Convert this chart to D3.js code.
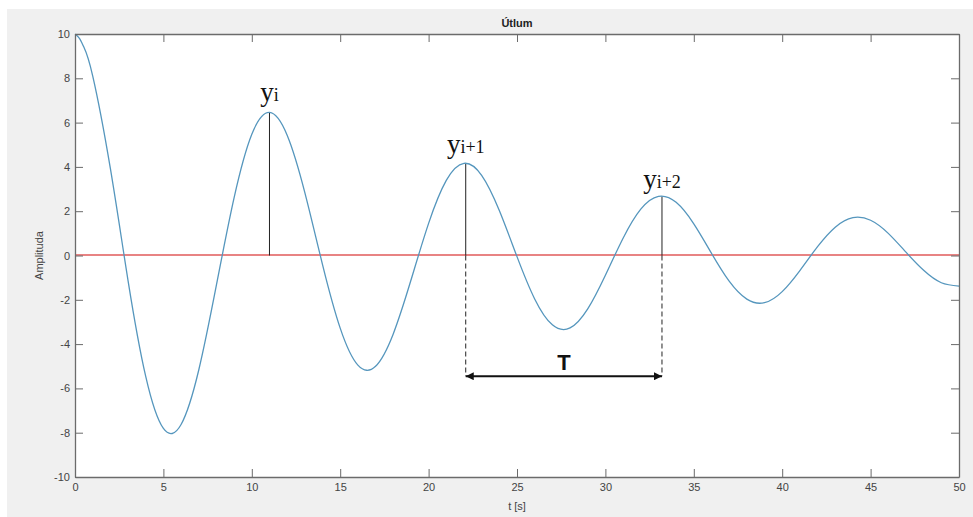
<!DOCTYPE html>
<html>
<head>
<meta charset="utf-8">
<script src="https://cdn.jsdelivr.net/npm/d3@7"></script>
<style>
  html, body { margin: 0; padding: 0; background: #fff; }
  svg { display: block; }
  text { font-family: "Liberation Sans", Arial, sans-serif; }
</style>
</head>
<body>
<div id="chart"></div>
<script>
  // Signal samples (t in s, amplitude)
  const tValues = [0, 0.25, 0.5, 1, 2, 3, 4, 5, 6, 7, 8, 9, 10, 11, 12, 13, 14, 15, 16, 17, 18, 19, 20,
    21, 22, 23, 24, 25, 26, 27, 28, 29, 30, 31, 32, 33, 34, 35, 36, 37, 38, 39, 40,
    41, 42, 43, 44, 45, 46, 47, 48, 49, 50];
  const ampValues = [10.00, 9.80, 9.41, 8.11, 3.93, -1.13, -5.46, -7.81, -7.63, -5.17, -1.33, 2.61, 5.47, 6.46, 5.43, 2.84, -0.41, -3.28, -4.95, -5.00, -3.54, -1.12, 1.45,
    3.39, 4.16, 3.62, 2.03, -0.05, -1.96, -3.13, -3.27, -2.41, -0.89, 0.78, 2.09, 2.67, 2.40, 1.43, 0.10, -1.16, -1.97, -2.13, -1.63,
    -0.68, 0.40, 1.28, 1.71, 1.59, 1.00, 0.15, -0.67, -1.23, -1.38];

  // Marked peaks
  const peakT = [11.0, 22.1, 33.2];
  const peakAmp = [6.45, 4.15, 2.67];
  const peakNames = ['i', 'i+1', 'i+2'];

  const xTicks = [0, 5, 10, 15, 20, 25, 30, 35, 40, 45, 50];
  const yTicks = [-10, -8, -6, -4, -2, 0, 2, 4, 6, 8, 10];
  const arrowLevel = -5.45;

  const W = 973, H = 517;
  const margin = { top: 34, right: 14, bottom: 40, left: 75 };
  const width = 959 - margin.left;
  const height = 477 - margin.top;

  const root = d3.select('#chart').append('svg')
    .attr('width', W)
    .attr('height', H);

  // figure background
  root.append('rect')
    .attr('x', 7).attr('y', 9)
    .attr('width', W - 7).attr('height', H - 9)
    .attr('fill', '#f0f0f0');

  const svg = root.append('g')
    .attr('transform', `translate(${margin.left},${margin.top})`);

  const x = d3.scaleLinear().domain([0, 50]).range([0, width]);
  const y = d3.scaleLinear().domain([-10, 10]).range([height, 0]);

  svg.append('rect')
    .attr('width', width).attr('height', height)
    .attr('fill', '#fff');

  const data = tValues.map((t, i) => ({ t: t, a: ampValues[i] }));

  // zero line
  svg.append('line')
    .attr('x1', x(0)).attr('x2', x(50))
    .attr('y1', y(0) - 0.5).attr('y2', y(0) - 0.5)
    .attr('stroke', '#e05a5a')
    .attr('stroke-width', 1.5);

  // peak markers
  peakT.forEach((t, i) => {
    svg.append('line')
      .attr('x1', x(t)).attr('x2', x(t))
      .attr('y1', y(0)).attr('y2', y(peakAmp[i]))
      .attr('stroke', '#222')
      .attr('stroke-width', 1);
  });

  // dashed drop lines to the period arrow
  [peakT[1], peakT[2]].forEach(t => {
    svg.append('line')
      .attr('x1', x(t)).attr('x2', x(t))
      .attr('y1', y(0)).attr('y2', y(arrowLevel))
      .attr('stroke', '#222')
      .attr('stroke-width', 1)
      .attr('stroke-dasharray', '5,3');
  });

  // double arrow for T
  const defs = root.append('defs');
  defs.append('marker')
    .attr('id', 'arrow')
    .attr('viewBox', '0 0 10 10')
    .attr('refX', 10).attr('refY', 5)
    .attr('markerWidth', 10).attr('markerHeight', 8)
    .attr('markerUnits', 'userSpaceOnUse')
    .attr('orient', 'auto-start-reverse')
    .append('path')
    .attr('d', 'M0,0 L10,5 L0,10 Z')
    .attr('fill', '#111');

  svg.append('line')
    .attr('x1', x(peakT[1])).attr('x2', x(peakT[2]))
    .attr('y1', y(arrowLevel)).attr('y2', y(arrowLevel))
    .attr('stroke', '#111')
    .attr('stroke-width', 2)
    .attr('marker-start', 'url(#arrow)')
    .attr('marker-end', 'url(#arrow)');

  svg.append('text')
    .attr('x', x((peakT[1] + peakT[2]) / 2))
    .attr('y', y(arrowLevel) - 6)
    .attr('text-anchor', 'middle')
    .style('font-size', '22px')
    .style('font-weight', 'bold')
    .style('fill', '#111')
    .text('T');

  // signal
  svg.append('path')
    .datum(data)
    .attr('fill', 'none')
    .attr('stroke', '#5596bd')
    .attr('stroke-width', 1.3)
    .attr('d', d3.line()
      .x(d => x(d.t))
      .y(d => y(d.a))
      .curve(d3.curveNatural));

  // peak labels
  const labelLift = [12, 11, 8];
  peakT.forEach((t, i) => {
    const lbl = svg.append('text')
      .attr('x', x(t))
      .attr('y', y(peakAmp[i]) - labelLift[i])
      .attr('text-anchor', 'middle')
      .style('font-family', '"Liberation Serif", "Times New Roman", serif')
      .style('fill', '#111');
    lbl.append('tspan').style('font-size', '27px').text('y');
    lbl.append('tspan').style('font-size', '18px').text(peakNames[i]);
  });

  // axes
  const axisColor = '#6b6b6b';
  const fmt = d => String(d);
  const xAxis = svg.append('g')
    .attr('transform', `translate(0,${height})`)
    .call(d3.axisBottom(x).tickValues(xTicks).tickFormat(fmt).tickSizeInner(-8).tickSizeOuter(0).tickPadding(6));
  const xTop = svg.append('g')
    .call(d3.axisTop(x).tickValues(xTicks).tickSizeInner(-8).tickSizeOuter(0).tickFormat(''));
  const yAxis = svg.append('g')
    .call(d3.axisLeft(y).tickValues(yTicks).tickFormat(fmt).tickSizeInner(-8).tickSizeOuter(0).tickPadding(5));
  const yRight = svg.append('g')
    .attr('transform', `translate(${width},0)`)
    .call(d3.axisRight(y).tickValues(yTicks).tickSizeInner(-8).tickSizeOuter(0).tickFormat(''));

  [xAxis, xTop, yAxis, yRight].forEach(g => {
    g.select('.domain').attr('stroke', axisColor).attr('stroke-width', 1.3);
    g.selectAll('.tick line').attr('stroke', axisColor);
    g.selectAll('.tick text')
      .style('font-family', '"Liberation Sans", Arial, sans-serif')
      .style('font-size', '11px')
      .attr('fill', '#444');
  });

  // title and axis labels
  svg.append('text')
    .attr('x', width / 2)
    .attr('y', -7)
    .attr('text-anchor', 'middle')
    .style('font-size', '11px')
    .style('font-weight', 'bold')
    .style('fill', '#222')
    .text('Útlum');

  svg.append('text')
    .attr('x', width / 2)
    .attr('y', height + 33)
    .attr('text-anchor', 'middle')
    .style('font-size', '11px')
    .style('fill', '#444')
    .text('t [s]');

  svg.append('text')
    .attr('transform', 'rotate(-90)')
    .attr('x', -height / 2)
    .attr('y', -32)
    .attr('text-anchor', 'middle')
    .style('font-size', '11px')
    .style('fill', '#444')
    .text('Amplituda');
</script>
</body>
</html>
